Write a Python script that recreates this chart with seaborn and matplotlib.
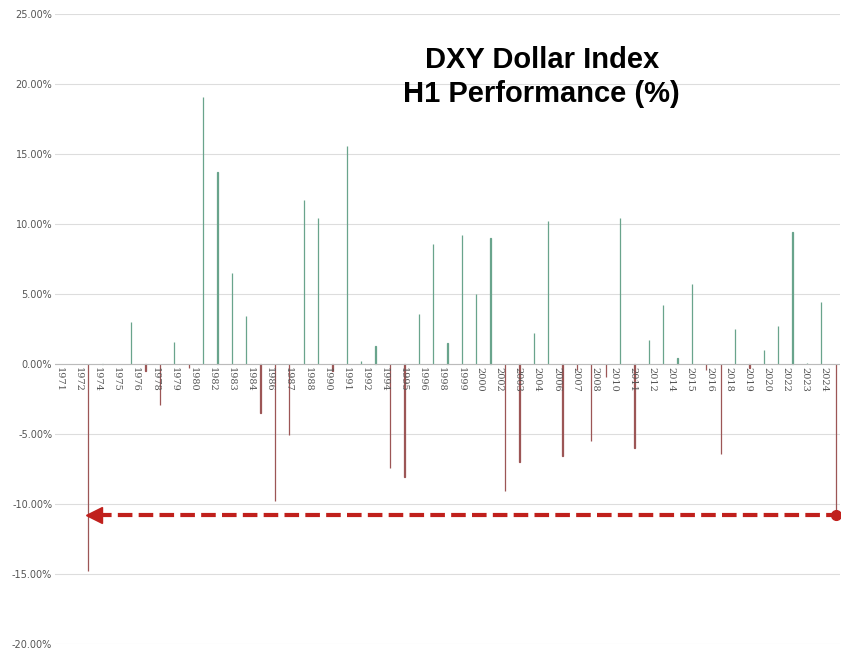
import numpy as np
import pandas as pd
import matplotlib
matplotlib.use("Agg")
import matplotlib.pyplot as plt
import seaborn as sns

# H1 performance per year, 1971..2025
years = list(range(1971, 2026))
h1_perf = [0.0, 0.0, -14.8, 0.0, 0.0, 3.0, -0.5, -2.9, 1.6, -0.3,
           19.1, 13.7, 6.5, 3.4, -3.5, -9.8, -5.1, 11.7, 10.4, -0.5,
           15.6, 0.2, 1.3, -7.4, -8.1, 3.6, 8.6, 1.5, 9.2, 5.0,
           9.0, -9.1, -7.0, 2.2, 10.2, -6.6, -0.4, -5.5, -0.9, 10.4,
           -6.0, 1.7, 4.2, 0.4, 5.7, -0.4, -6.4, 2.5, -0.3, 1.0,
           2.7, 9.4, 0.1, 4.4, -10.8]
# tick labels as printed on the original chart
tick_labels = ["1971", "1972", "1974", "1975", "1976", "1978", "1979", "1980", "1982",
               "1983", "1984", "1986", "1987", "1988", "1990", "1991", "1992", "1994",
               "1995", "1996", "1998", "1999", "2000", "2002", "2003", "2004", "2006",
               "2007", "2008", "2010", "2011", "2012", "2014", "2015", "2016", "2018",
               "2019", "2020", "2022", "2023", "2024"]
y_ticks = [-20, -15, -10, -5, 0, 5, 10, 15, 20, 25]

df = pd.DataFrame({"year": [str(y) for y in years], "perf": h1_perf})
df["sign"] = np.where(df["perf"] >= 0, "up", "down")

fig = plt.figure(figsize=(8.48, 6.56), dpi=100)
ax = fig.add_axes([55 / 848, 12 / 656, 785 / 848, 630 / 656])

pal = {"up": "#5fae8e", "down": "#a84a4a"}
sns.barplot(data=df, x="year", y="perf", hue="sign", dodge=False, width=0.02,
            palette=pal, legend=False, ax=ax)
# give every bar the same thin stroke so they all render evenly
for patch in ax.patches:
    patch.set_edgecolor(patch.get_facecolor())
    patch.set_linewidth(0.9)

ax.set_ylim(-20, 25)
ax.set_xlim(-0.3, len(years) - 0.7)
ax.set_yticks(y_ticks)
ax.set_yticklabels([f"{v:.2f}%" for v in y_ticks], fontsize=7, color="#555555")
ax.set_xticks([])
ax.set_xlabel("")
ax.set_ylabel("")
ax.grid(axis="y", color="#dddddd", linewidth=0.8)
ax.set_axisbelow(True)
for s in ax.spines.values():
    s.set_visible(False)
ax.tick_params(axis="y", length=0, pad=2)
ax.axhline(0, color="#bbbbbb", linewidth=0.8, zorder=1)

# year labels, rotated, below the zero line
tick_pos = np.linspace(0, 53.2, len(tick_labels))
for p, lab in zip(tick_pos, tick_labels):
    ax.text(p, -0.2, lab, rotation=270, ha="center", va="top",
            fontsize=7, color="#555555", family="DejaVu Serif")

# dashed arrow at 2025 level
last = h1_perf[-1]
ax.plot([2.6, len(years) - 1], [last, last], linestyle="--", color="#c0201c",
        linewidth=3, dashes=(3.5, 1.5), zorder=4)
ax.plot([len(years) - 1], [last], marker="o", color="#c0201c", markersize=7, zorder=5)
ax.plot([2.4], [last], marker="<", color="#c0201c", markersize=12, zorder=5)

ax.text(0.62, 0.9, "DXY Dollar Index\nH1 Performance (%)", transform=ax.transAxes,
        ha="center", va="center", fontsize=21, fontweight="bold",
        family="Liberation Sans", linespacing=1.3)

fig.savefig("out.png", dpi=100)
